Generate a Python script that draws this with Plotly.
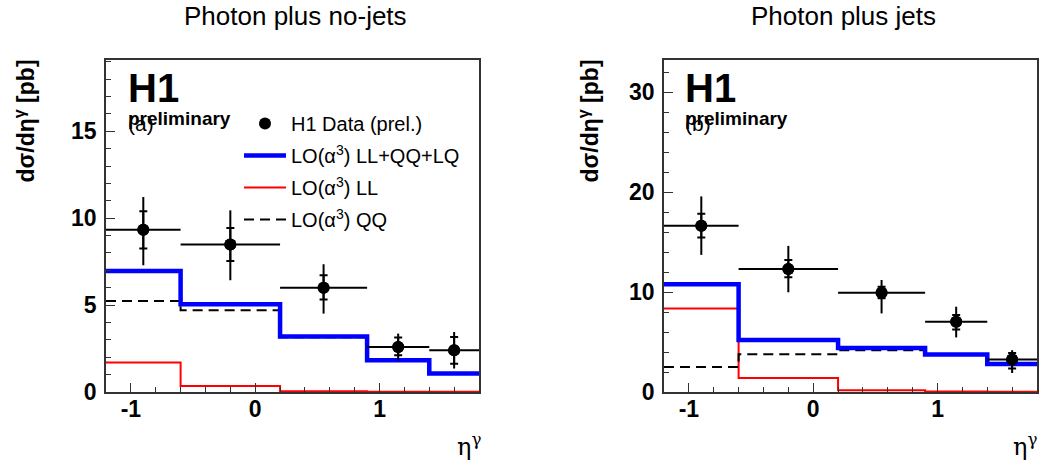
import plotly.graph_objects as go

# ---------------- data ----------------
bin_edges = [-1.2, -0.6, 0.2, 0.9, 1.4, 1.8]
eta_centers = [-0.9, -0.2, 0.55, 1.15, 1.6]
eta_halfwidth = [0.3, 0.4, 0.35, 0.25, 0.2]

# (a) Photon plus no-jets
data_a = [9.34, 8.48, 6.00, 2.59, 2.40]
stat_up_a = [1.06, 0.96, 0.71, 0.54, 0.77]
stat_dn_a = [1.09, 0.94, 0.68, 0.48, 0.77]
tot_up_a = [1.88, 1.97, 1.35, 0.77, 1.05]
tot_dn_a = [2.05, 2.05, 1.49, 0.77, 1.05]
all_a = [6.96, 5.05, 3.20, 1.82, 1.06]
ll_a = [1.69, 0.35, 0.05, 0.02, 0.02]
qq_a = [5.24, 4.70, 3.15, 1.78, 1.03]

# (b) Photon plus jets
data_b = [16.62, 12.31, 9.93, 7.02, 3.25]
stat_up_b = [1.20, 0.90, 0.60, 0.67, 0.66]
stat_dn_b = [1.17, 0.84, 0.56, 0.76, 0.90]
tot_up_b = [2.94, 2.30, 1.27, 1.51, 0.93]
tot_dn_b = [2.91, 2.34, 2.07, 1.56, 1.35]
all_b = [10.77, 5.19, 4.41, 3.75, 2.80]
ll_b = [8.36, 1.40, 0.17, 0.05, 0.03]
qq_b = [2.51, 3.78, 4.18, 3.70, 2.75]

# tick labels
x_tick_vals = [-1, 0, 1]
x_tick_text = ["-1", "0", "1"]

titles = ["Photon plus no-jets", "Photon plus jets"]
panel_tags = ["(a)", "(b)"]
legend_names = ["H1 Data (prel.)", "LO(α<sup>3</sup>) LL+QQ+LQ",
                "LO(α<sup>3</sup>) LL", "LO(α<sup>3</sup>) QQ"]

# ---------------- layout helpers ----------------
W, H = 1041, 465
def px(x):
    return x / W
def py(y):
    return 1 - y / H

fig = go.Figure()

def hist_y(vals):
    return list(vals) + [vals[-1]]

panels = [
    dict(data=data_a, su=stat_up_a, sd=stat_dn_a, tu=tot_up_a, td=tot_dn_a,
         all=all_a, ll=ll_a, qq=qq_a, xa="x", ya="y", legend=True),
    dict(data=data_b, su=stat_up_b, sd=stat_dn_b, tu=tot_up_b, td=tot_dn_b,
         all=all_b, ll=ll_b, qq=qq_b, xa="x2", ya="y2", legend=False),
]

for p in panels:
    lg = p["legend"]
    fig.add_trace(go.Scatter(x=bin_edges, y=hist_y(p["ll"]), mode="lines",
                             line=dict(shape="hv", color="#ff0000", width=2),
                             name=legend_names[2], showlegend=lg, legendrank=3,
                             legendgroup="g3", xaxis=p["xa"], yaxis=p["ya"]))
    fig.add_trace(go.Scatter(x=bin_edges, y=hist_y(p["qq"]), mode="lines",
                             line=dict(shape="hv", color="black", width=2, dash="10px,6px"),
                             name=legend_names[3], showlegend=lg, legendrank=4,
                             legendgroup="g4", xaxis=p["xa"], yaxis=p["ya"]))
    fig.add_trace(go.Scatter(x=bin_edges, y=hist_y(p["all"]), mode="lines",
                             line=dict(shape="hv", color="#0000ff", width=4.5),
                             name=legend_names[1], showlegend=lg, legendrank=2,
                             legendgroup="g2", xaxis=p["xa"], yaxis=p["ya"]))
    # total errors (no caps) + bin width
    fig.add_trace(go.Scatter(x=eta_centers, y=p["data"], mode="markers",
                             marker=dict(color="black", size=12),
                             error_x=dict(type="data", array=eta_halfwidth, width=0,
                                          color="black", thickness=2),
                             error_y=dict(type="data", array=p["tu"], arrayminus=p["td"],
                                          width=0, color="black", thickness=2),
                             showlegend=False, xaxis=p["xa"], yaxis=p["ya"]))
    # statistical errors with ticks
    fig.add_trace(go.Scatter(x=eta_centers, y=p["data"], mode="markers",
                             marker=dict(color="black", size=12),
                             error_y=dict(type="data", array=p["su"], arrayminus=p["sd"],
                                          width=4, color="black", thickness=2),
                             name=legend_names[0], showlegend=lg, legendrank=1,
                             legendgroup="g1", xaxis=p["xa"], yaxis=p["ya"]))

tickfont = dict(family="Liberation Sans, Arial, sans-serif", size=23, color="black", weight="bold")
frame = "#333333"

def xaxis_cfg(dom, anchor):
    return dict(domain=dom, range=[-1.2, 1.8], tickmode="array", tickvals=x_tick_vals,
                ticktext=x_tick_text, ticks="inside", ticklen=9,
                tickwidth=1.2, tickcolor=frame, showline=True, linecolor=frame, linewidth=1.5,
                mirror=True, showgrid=False, zeroline=False, tickfont=tickfont, anchor=anchor,
                ticklabelstandoff=-4,
                minor=dict(dtick=0.2, tick0=0, ticks="inside", ticklen=5, tickcolor=frame,
                           tickwidth=1.2))

def yaxis_cfg(dom, rng, major, minor, anchor):
    return dict(domain=dom, range=rng, dtick=major, tick0=0, ticks="inside", ticklen=9,
                tickwidth=1.2, tickcolor=frame, showline=True, linecolor=frame, linewidth=1.5,
                mirror=True, showgrid=False, zeroline=False, tickfont=tickfont, anchor=anchor,
                ticklabelstandoff=3,
                minor=dict(dtick=minor, ticks="inside", ticklen=5, tickcolor=frame, tickwidth=1.2))

ydom = [py(392), py(60)]
fig.update_layout(
    width=W, height=H,
    margin=dict(l=0, r=0, t=0, b=0, autoexpand=False),
    paper_bgcolor="white", plot_bgcolor="white",
    xaxis=xaxis_cfg([px(106), px(479)], "y"),
    yaxis=yaxis_cfg(ydom, [0, 19.1], 5, 1, "x"),
    xaxis2=xaxis_cfg([px(664), px(1037)], "y2"),
    yaxis2=yaxis_cfg(ydom, [0, 33.2], 10, 2, "x2"),
    showlegend=True,
    legend=dict(x=px(239), y=py(104), xanchor="left", yanchor="top",
                bgcolor="rgba(0,0,0,0)", borderwidth=0, traceorder="grouped",
                tracegroupgap=3, itemwidth=42,
                font=dict(family="Liberation Sans, Arial, sans-serif", size=20, color="black")),
)

ann = []
title_font = dict(family="Liberation Sans, Arial, sans-serif", size=26, color="black")
for cx, t in zip([295, 843], titles):
    ann.append(dict(text=t, x=px(cx), y=py(16), xref="paper", yref="paper",
                    xanchor="center", yanchor="middle", showarrow=False, font=title_font))

for left, tag in zip([126, 683], panel_tags):
    ann.append(dict(text="H1", x=px(left), y=py(88), xref="paper", yref="paper",
                    xanchor="left", yanchor="middle", showarrow=False,
                    font=dict(family="Liberation Sans, Arial, sans-serif", size=40,
                              color="black", weight="bold")))
    ann.append(dict(text=tag, x=px(left), y=py(124), xref="paper", yref="paper",
                    xanchor="left", yanchor="middle", showarrow=False,
                    font=dict(family="Liberation Sans, Arial, sans-serif", size=21, color="black")))
    ann.append(dict(text="preliminary", x=px(left), y=py(118), xref="paper", yref="paper",
                    xanchor="left", yanchor="middle", showarrow=False,
                    font=dict(family="Liberation Sans, Arial, sans-serif", size=19,
                              color="black", weight="bold")))

for cx in [24, 588]:
    ann.append(dict(text="dσ/dη<sup>γ</sup> [pb]", x=px(cx), y=py(58), xref="paper", yref="paper",
                    xanchor="center", yanchor="top", textangle=-90, showarrow=False,
                    font=dict(family="Liberation Sans, Arial, sans-serif", size=23,
                              color="black", weight="bold")))

for rx in [483, 1039]:
    ann.append(dict(text="η<sup>γ</sup>", x=px(rx), y=py(445), xref="paper", yref="paper",
                    xanchor="right", yanchor="middle", showarrow=False,
                    font=dict(family="DejaVu Serif, serif", size=24, color="black")))

fig.update_layout(annotations=ann)
fig.write_html("out.html", config={"displayModeBar": False},
               post_script="document.body.style.margin='0';")
